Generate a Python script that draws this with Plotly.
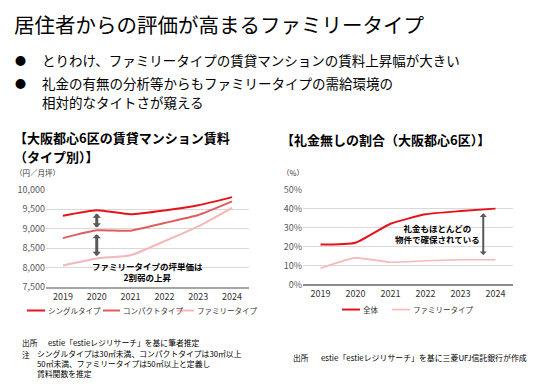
import plotly.graph_objects as go

W, H = 536, 389

# ---------------- data ----------------
years = ["2019", "2020", "2021", "2022", "2023", "2024"]
rent_single = [9335, 9475, 9370, 9465, 9600, 9810]
rent_compact = [8760, 8960, 8950, 9145, 9350, 9700]
rent_family = [8060, 8240, 8320, 8680, 9060, 9535]
rent_ticks = [7500, 8000, 8500, 9000, 9500, 10000]

nokey_total = [21.0, 22.0, 32.0, 37.0, 38.7, 40.0]
nokey_family = [8.5, 14.0, 11.7, 12.5, 13.0, 13.0]
pct_ticks = [0, 10, 20, 30, 40, 50]

FONT = "Noto Sans CJK JP"
C_SINGLE = "#E8121A"
C_COMPACT = "#E25C5E"
C_FAMILY = "#F5B7B8"


def px(x):
    return x / W


def py(y):
    return 1 - y / H


fig = go.Figure()

fig.add_trace(go.Scatter(x=years, y=rent_single, mode="lines", name="シングルタイプ",
                         line=dict(color=C_SINGLE, width=2, shape="spline", smoothing=0.5),
                         xaxis="x", yaxis="y", showlegend=False))
fig.add_trace(go.Scatter(x=years, y=rent_compact, mode="lines", name="コンパクトタイプ",
                         line=dict(color=C_COMPACT, width=2, shape="spline", smoothing=0.5),
                         xaxis="x", yaxis="y", showlegend=False))
fig.add_trace(go.Scatter(x=years, y=rent_family, mode="lines", name="ファミリータイプ",
                         line=dict(color=C_FAMILY, width=2, shape="spline", smoothing=0.5),
                         xaxis="x", yaxis="y", showlegend=False))

fig.add_trace(go.Scatter(x=years, y=nokey_total, mode="lines", name="全体",
                         line=dict(color=C_SINGLE, width=2, shape="spline", smoothing=0.5),
                         xaxis="x2", yaxis="y2", showlegend=False))
fig.add_trace(go.Scatter(x=years, y=nokey_family, mode="lines", name="ファミリータイプ",
                         line=dict(color=C_FAMILY, width=1.6, shape="spline", smoothing=0.5),
                         xaxis="x2", yaxis="y2", showlegend=False))

axis_common_x = dict(type="category", showgrid=False, showline=True, ticks="",
                     tickfont=dict(family=FONT, size=9, color="#333333"), zeroline=False)
axis_common_y = dict(showgrid=True, gridcolor="#D9D9D9", gridwidth=1, zeroline=False,
                     showline=False, ticks="", tickfont=dict(family=FONT, size=9, color="#595959"))

fig.update_layout(
    width=W, height=H, autosize=False,
    margin=dict(l=0, r=0, t=0, b=0),
    paper_bgcolor="white", plot_bgcolor="white",
    showlegend=False,
    xaxis=dict(domain=[px(46), px(249)], anchor="y", range=[-0.5, 5.5],
               linecolor="#A6A6A6", linewidth=2, **axis_common_x),
    yaxis=dict(domain=[py(290), py(189)], anchor="x", range=[7500, 10000],
               tickvals=rent_ticks, ticktext=[f"{v:,}" for v in rent_ticks], **axis_common_y),
    xaxis2=dict(domain=[px(303), px(513)], anchor="y2", range=[-0.5, 5.5],
                linecolor="#8C8C8C", linewidth=1.5, **axis_common_x),
    yaxis2=dict(domain=[py(287), py(189)], anchor="x2", range=[0, 50],
                tickvals=pct_ticks, ticktext=[f"{v}%" for v in pct_ticks], **axis_common_y),
)

ann = []


def text(x, y, s, size, bold=False, anchor="left", color="#000000"):
    ann.append(dict(x=px(x), y=py(y), xref="paper", yref="paper", text=(f"<b>{s}</b>" if bold else s),
                    showarrow=False, xanchor=anchor, yanchor="middle", align=anchor,
                    borderpad=0, font=dict(family=FONT, size=size, color=color)))


# title and bullets
text(13, 18, "居住者からの評価が高まるファミリータイプ", 20.5)
text(14, 55, "●", 11)
text(41, 55, "とりわけ、ファミリータイプの賃貸マンションの賃料上昇幅が大きい", 13.5)
text(14, 78.5, "●", 11)
text(41, 78.5, "礼金の有無の分析等からもファミリータイプの需給環境の", 13.5)
text(41, 98.5, "相対的なタイトさが窺える", 13.5)

# chart titles
text(13, 135.5, "【大阪都心6区の賃貸マンション賃料", 13, bold=True)
text(13, 154.5, "（タイプ別）】", 13, bold=True)
text(280, 137.5, "【礼金無しの割合（大阪都心6区）】", 13, bold=True)

# units
text(14, 171, "（円／月坪）", 7.5, color="#333333")
text(281, 171, "（%）", 7.5, color="#333333")

# in-chart annotations
text(147, 273.5, "ファミリータイプの坪単価は<br>2割弱の上昇", 8.5, bold=True, anchor="center")
text(437, 234.5, "礼金もほとんどの<br>物件で確保されている", 8.5, bold=True, anchor="center")

# legends (manual)
legend_items = [
    (27, 45, 314, C_SINGLE, "シングルタイプ", 2),
    (103, 120, 314, C_COMPACT, "コンパクトタイプ", 2),
    (177, 194, 314, C_FAMILY, "ファミリータイプ", 2),
    (342, 360, 313, C_SINGLE, "全体", 2),
    (392, 410, 313, C_FAMILY, "ファミリータイプ", 1.6),
]
shapes = []
for x0, x1, yy, col, lab, lw in legend_items:
    shapes.append(dict(type="line", xref="paper", yref="paper", x0=px(x0), x1=px(x1),
                       y0=py(yy), y1=py(yy), line=dict(color=col, width=lw)))
    text(x1 + 2, yy, lab, 7.5, color="#333333")

# footnotes
text(21, 347, "出所", 7.8)
text(47, 347, "estie「estieレジリサーチ」を基に筆者推定", 7.8)
text(21, 359, "注", 7.8)
text(36, 369, "シングルタイプは30㎡未満、コンパクトタイプは30㎡以上<br>"
              "50㎡未満、ファミリータイプは50㎡以上と定義し<br>賃料関数を推定", 7.8)
text(292, 363, "出所", 7.8)
text(320, 363, "estie「estieレジリサーチ」を基に三菱UFJ信託銀行が作成", 7.9)

# arrows (double-headed)
arrows = [
    ("x", "y", 1, 9430, 1, 9030, 3, 0.47),
    ("x", "y", 1, 8900, 1, 8300, 3, 0.47),
    ("x2", "y2", 4.65, 38.3, 4.65, 15.5, 2, 0.6),
]
for xr, yr, x0, y0, x1, y1, w, s in arrows:
    ann.append(dict(x=x1, y=y1, ax=x0, ay=y0, xref=xr, yref=yr, axref=xr, ayref=yr,
                    text="", showarrow=True, arrowhead=1, startarrowhead=1,
                    arrowside="end+start", arrowsize=s, startarrowsize=s,
                    arrowwidth=w, arrowcolor="#595959"))

fig.update_layout(annotations=ann, shapes=shapes)

fig.write_html("out.html", config={"displayModeBar": False},
               post_script="document.body.style.margin='0';document.body.style.overflow='hidden';")
